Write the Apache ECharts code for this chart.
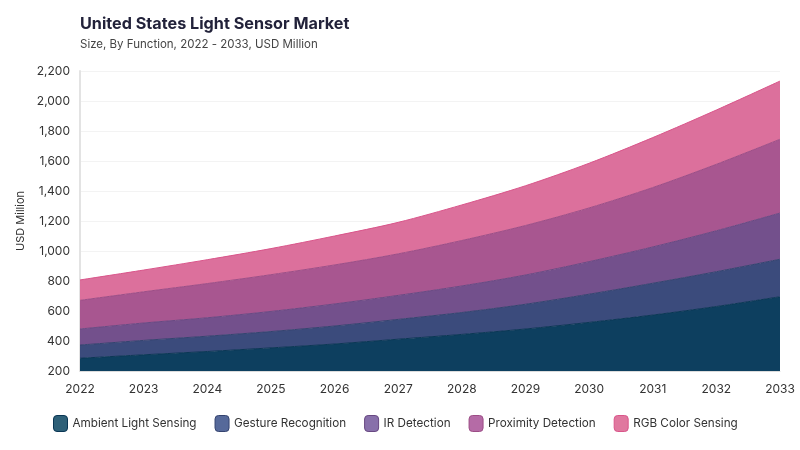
<!DOCTYPE html>
<html>
<head>
<meta charset="utf-8">
<script src="https://cdn.jsdelivr.net/npm/echarts@6/dist/echarts.min.js"></script>
<style>html,body{margin:0;padding:0;background:#fff}#c{width:800px;height:450px}</style>
</head>
<body>
<div id="c"></div>
<script>
const years = ['2022','2023','2024','2025','2026','2027','2028','2029','2030','2031','2032','2033'];
const ambient = [285, 308, 330, 354, 380, 412, 444, 480, 524, 573, 630, 695];
const gesture = [88, 96, 102, 109, 120, 132, 146, 165, 188, 212, 232, 250];
const irDetection = [107, 116, 123, 134, 147, 160, 177, 195, 217, 242, 273, 308];
const proximity = [191, 208, 228, 245, 260, 277, 303, 330, 358, 396, 443, 492];
const rgbColor = [136, 145, 159, 174, 193, 210, 237, 265, 298, 333, 362, 388];
const seriesNames = ['Ambient Light Sensing','Gesture Recognition','IR Detection','Proximity Detection','RGB Color Sensing'];
const seriesData = [ambient, gesture, irDetection, proximity, rgbColor];
const fills = ['#0d3f5f','#3b4b7c','#73508c','#a85690','#dc709c'];
const lines = ['#0a3654','#34436f','#684882','#9c4d86','#d9558a'];
const legendCols = ['#2e6078','#56699a','#8870aa','#b56ba6','#e0789f'];
const FONT = 'Inter, "Noto Sans", sans-serif';

const chart = echarts.init(document.getElementById('c'), null, {renderer:'canvas'});
chart.setOption({
  animation:false,
  textStyle:{fontFamily:FONT},
  title:{
    text:'United States Light Sensor Market',
    subtext:'Size, By Function, 2022 - 2033, USD Million',
    left:75, top:11, itemGap:7,
    textStyle:{fontSize:16.2,fontWeight:'bold',color:'#22223a',fontFamily:FONT},
    subtextStyle:{fontSize:11.5,color:'#444',fontFamily:FONT}
  },
  grid:{left:80,right:20,top:71,bottom:79},
  legend:{
    bottom:13, left:48, icon:'roundRect', itemWidth:14, itemHeight:16, itemGap:18,
    textStyle:{fontSize:11.7,color:'#333',fontFamily:FONT},
    data: seriesNames.map((n,i)=>({name:n, itemStyle:{color:legendCols[i], borderColor:lines[i], borderWidth:1}}))
  },
  xAxis:{
    type:'category', data:years, boundaryGap:false,
    axisLine:{show:true,lineStyle:{color:'#dcdcdc'}},
    axisTick:{show:false},
    axisLabel:{fontSize:12,color:'#333',margin:12}
  },
  yAxis:{
    type:'value', min:200, max:2200, interval:200,
    name:'USD Million', nameLocation:'middle', nameGap:52, nameRotate:90,
    nameTextStyle:{fontSize:11,color:'#333'},
    axisLine:{show:true,lineStyle:{color:'#e3e3e3',width:2}},
    axisTick:{show:false},
    splitLine:{lineStyle:{color:'#f3f3f3'}},
    axisLabel:{fontSize:12,color:'#333',margin:10,formatter:v=>v.toLocaleString('en-US')}
  },
  series: seriesNames.map((n,i)=>({
    name:n, type:'line', stack:'total', data:seriesData[i], smooth:0.3, symbol:'none',
    itemStyle:{color:legendCols[i]},
    lineStyle:{color:lines[i], width:1},
    areaStyle:{color:fills[i], opacity:1}
  }))
});
</script>
</body>
</html>
